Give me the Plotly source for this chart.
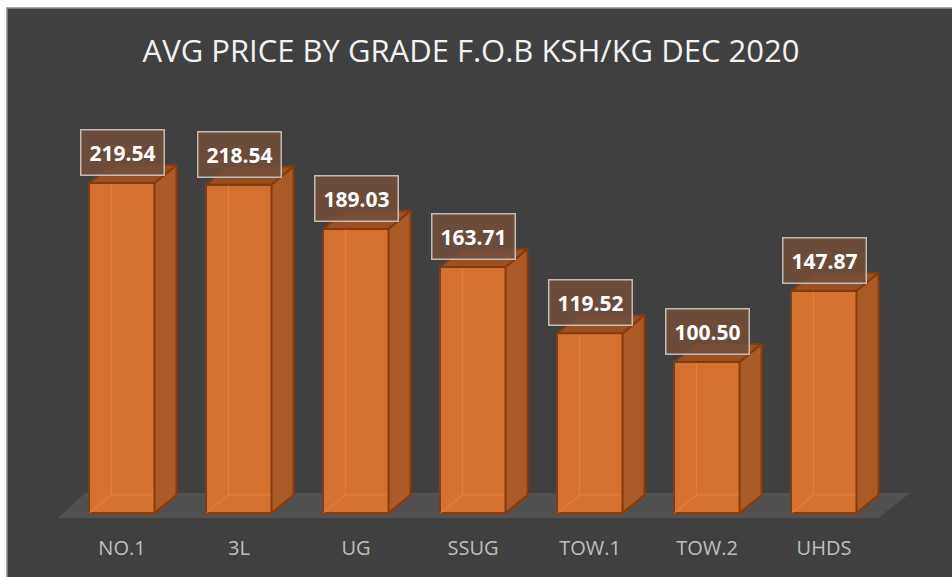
import plotly.graph_objects as go

# ---- data ----
categories = ["NO.1", "3L", "UG", "SSUG", "TOW.1", "TOW.2", "UHDS"]
values = [219.54, 218.54, 189.03, 163.71, 119.52, 100.50, 147.87]
value_labels = ["219.54", "218.54", "189.03", "163.71", "119.52", "100.50", "147.87"]
title_text = "AVG PRICE BY GRADE F.O.B KSH/KG DEC 2020"

# ---- geometry / style ----
W, H = 952, 577
BAR_W = 0.556          # front face width (category units)
DX = 0.188             # 3D depth offset in x (category units)
DY = 12.0              # 3D depth offset in y (value units)
X_RANGE = [-1.0427, 7.094]
Y_RANGE = [-3.33, 341.3]
MARGIN_B = 59

FRONT = "rgba(220,116,48,0.96)"
SIDE = "rgb(170,90,38)"
TOP = "rgb(156,80,33)"
EDGE = "rgb(135,58,14)"
BG = "#404040"

xs = list(range(len(categories)))

fig = go.Figure()

# front faces
fig.add_trace(go.Bar(
    x=xs, y=values, width=BAR_W,
    marker=dict(color=FRONT, line=dict(color=EDGE, width=2)),
    hoverinfo="skip", showlegend=False,
))

# hidden back edges (seen through translucent front)
hx, hy = [], []
for i, v in zip(xs, values):
    xl = i - BAR_W / 2
    xr = i + BAR_W / 2
    hx += [xl, xl + DX, xl + DX, None, xl + DX, xr + DX, None]
    hy += [0, DY, v + DY, None, DY, DY, None]
fig.add_trace(go.Scatter(x=hx, y=hy, mode="lines",
                         line=dict(color="rgba(240,135,60,0.55)", width=1.2),
                         hoverinfo="skip", showlegend=False))

# side faces
sx, sy = [], []
for i, v in zip(xs, values):
    xr = i + BAR_W / 2
    sx += [xr, xr + DX, xr + DX, xr, xr, None]
    sy += [0, DY, v + DY, v, 0, None]
fig.add_trace(go.Scatter(x=sx, y=sy, mode="lines", fill="toself",
                         fillcolor=SIDE, line=dict(color=EDGE, width=2),
                         hoverinfo="skip", showlegend=False))

# top faces
tx, ty = [], []
for i, v in zip(xs, values):
    xl = i - BAR_W / 2
    xr = i + BAR_W / 2
    tx += [xl, xr, xr + DX, xl + DX, xl, None]
    ty += [v, v, v + DY, v + DY, v, None]
fig.add_trace(go.Scatter(x=tx, y=ty, mode="lines", fill="toself",
                         fillcolor=TOP, line=dict(color=EDGE, width=2),
                         hoverinfo="skip", showlegend=False))

# value labels
for i, v, t in zip(xs, values, value_labels):
    fig.add_annotation(
        x=i, y=v, xref="x", yref="y", text="<b>%s</b>" % t, showarrow=False,
        yanchor="bottom", yshift=7,
        font=dict(family="Open Sans", size=21, color="white"),
        bgcolor="rgba(115,78,58,0.85)", bordercolor="rgba(210,200,195,0.9)",
        borderwidth=1.5, borderpad=8,
    )

n = len(categories)
floor_path = "M {a},{b} L {c},{b} L {d},{e} L {f},{e} Z".format(
    a=-0.547, b=Y_RANGE[0], c=n - 1 + 0.462, d=n - 1 + 0.735, e=13.3, f=-0.316)

fig.update_layout(
    width=W, height=H,
    margin=dict(l=0, r=0, t=0, b=MARGIN_B),
    paper_bgcolor="white",
    plot_bgcolor="rgba(0,0,0,0)",
    title=dict(text=title_text, x=471 / W, y=1 - 51 / H, xref="container", yref="container",
               xanchor="center", yanchor="middle",
               font=dict(family="Open Sans", size=31, color="#f2f2f2")),
    xaxis=dict(range=X_RANGE, tickmode="array", tickvals=xs, ticktext=categories,
               showgrid=False, zeroline=False, showline=False,
               ticks="outside", ticklen=12, tickcolor="rgba(0,0,0,0)",
               tickfont=dict(family="Open Sans", size=20, color="#bfbfbf"),
               fixedrange=True),
    yaxis=dict(range=Y_RANGE, visible=False, showgrid=False, zeroline=False, fixedrange=True),
    bargap=0,
    shapes=[
        dict(type="rect", xref="paper", yref="paper", layer="below",
             x0=7 / W, x1=1.02, y0=-0.2, y1=1 - 8 / (H - MARGIN_B),
             fillcolor=BG, line=dict(color="#8c8c8c", width=1.5)),
        dict(type="path", xref="x", yref="y", layer="below", path=floor_path,
             fillcolor="#515151", line=dict(width=0)),
    ],
)

fig.write_html("out.html", config={"displayModeBar": False},
               post_script="document.body.style.margin='0';document.body.style.overflow='hidden';")
